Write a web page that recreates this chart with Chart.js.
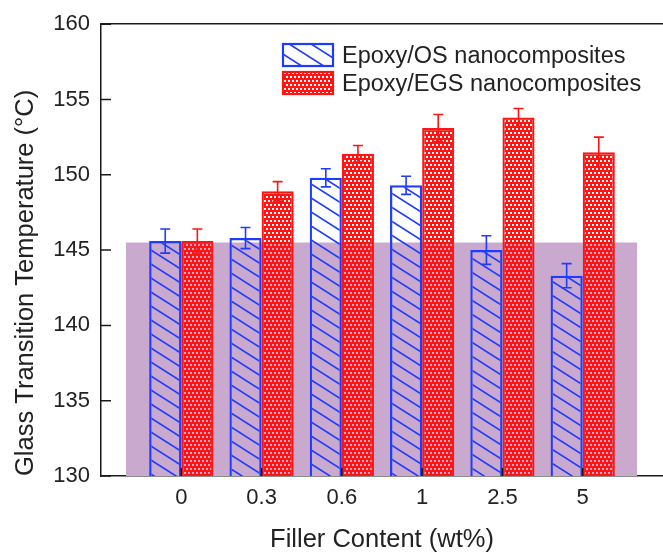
<!DOCTYPE html>
<html>
<head>
<meta charset="utf-8">
<script src="https://cdn.jsdelivr.net/npm/chart.js@4.4.1/dist/chart.umd.min.js"></script>
<style>
  html, body { margin: 0; padding: 0; background: #fff; overflow: hidden; }
</style>
</head>
<body>
<canvas id="tgChart" width="663" height="552"></canvas>
<script>
// Filler content (wt%) categories
const fillerLabels = ['0', '0.3', '0.6', '1', '2.5', '5'];

// Glass transition temperature (degC) and error, Epoxy/OS
const osValues = [145.6, 145.8, 149.8, 149.3, 145.0, 143.3];
const osErrors = [0.8, 0.7, 0.6, 0.6, 0.95, 0.8];

// Glass transition temperature (degC) and error, Epoxy/EGS
const egsValues = [145.6, 148.9, 151.4, 153.1, 153.8, 151.5];
const egsErrors = [0.8, 0.65, 0.55, 0.9, 0.6, 1.0];

// Neat epoxy reference band
const bandValue = 145.5;
const bandRange = [-0.69, 5.68];

const yTickStep = 5;

const BLUE = '#1e3cff';
const RED = '#ff1414';
const PURPLE = 'rgb(201,169,206)';
const AXIS = '#1a1a1a';

Chart.defaults.font.family = '"Liberation Sans", Arial, sans-serif';
Chart.defaults.color = '#222';

// Diagonal hatch ("\\\") pattern
function makeHatch(color) {
    const W = 22, H = 14;
    const c = document.createElement('canvas');
    c.width = W;
    c.height = H;
    const g = c.getContext('2d');
    g.strokeStyle = color;
    g.lineWidth = 1.6;
    g.beginPath();
    for (let k = -1; k <= 1; k++) {
        g.moveTo(-W, -H + k * H);
        g.lineTo(2 * W, 2 * H + k * H);
    }
    g.stroke();
    return g.createPattern(c, 'repeat');
}

// Solid colour with small see-through dots
function makeDots(color) {
    const c = document.createElement('canvas');
    c.width = 8;
    c.height = 8;
    const g = c.getContext('2d');
    g.fillStyle = color;
    g.fillRect(0, 0, 8, 8);
    [[0, 0], [4, 0], [2, 4], [6, 4]].forEach(([x, y]) => g.clearRect(x, y, 2, 2));
    return g.createPattern(c, 'repeat');
}

// Error bars with caps at both ends
const errorBars = {
    id: 'errorBars',
    afterDatasetsDraw(chart) {
        const ctx = chart.ctx;
        const yScale = chart.scales.y;
        chart.data.datasets.forEach((ds, di) => {
            if (!ds.errors) return;
            const meta = chart.getDatasetMeta(di);
            ctx.save();
            ctx.strokeStyle = ds.borderColor;
            ctx.lineWidth = 1.6;
            ctx.beginPath();
            meta.data.forEach((bar, i) => {
                const v = ds.data[i].y;
                const e = ds.errors[i];
                const top = yScale.getPixelForValue(v + e);
                const bot = yScale.getPixelForValue(v - e);
                ctx.moveTo(bar.x, top);
                ctx.lineTo(bar.x, bot);
                ctx.moveTo(bar.x - 5, top);
                ctx.lineTo(bar.x + 5, top);
                ctx.moveTo(bar.x - 5, bot);
                ctx.lineTo(bar.x + 5, bot);
            });
            ctx.stroke();
            ctx.restore();
        });
    }
};

// Tick marks pointing into the plot
const inwardTicks = {
    id: 'inwardTicks',
    afterDraw(chart) {
        const { ctx, chartArea: a, scales: { x, y } } = chart;
        ctx.save();
        ctx.strokeStyle = AXIS;
        ctx.lineWidth = 1.5;
        ctx.beginPath();
        y.ticks.forEach(t => {
            const py = y.getPixelForValue(t.value);
            ctx.moveTo(a.left, py);
            ctx.lineTo(a.left + 10, py);
        });
        x.ticks.forEach(t => {
            const px = x.getPixelForValue(t.value);
            ctx.moveTo(px, a.bottom);
            ctx.lineTo(px, a.bottom - 8);
        });
        ctx.stroke();
        ctx.restore();
    }
};

// Legend inside the plot, top right
const boxLegend = {
    id: 'boxLegend',
    afterDraw(chart) {
        const ctx = chart.ctx;
        const items = chart.data.datasets.filter(ds => ds.errors);
        ctx.save();
        ctx.font = '23.5px "Liberation Sans", Arial, sans-serif';
        ctx.textBaseline = 'alphabetic';
        items.forEach((ds, i) => {
            const bx = 282, by = 43 + i * 28;
            ctx.fillStyle = ds.backgroundColor;
            ctx.fillRect(bx, by, 52, 24);
            ctx.strokeStyle = ds.borderColor;
            ctx.lineWidth = 2.2;
            ctx.strokeRect(bx + 1, by + 1, 50, 22);
            ctx.fillStyle = '#222';
            ctx.fillText(ds.label, 342, by + 20);
        });
        ctx.restore();
    }
};

const ctx = document.getElementById('tgChart').getContext('2d');

new Chart(ctx, {
    type: 'bar',
    data: {
        datasets: [
            {
                label: 'Epoxy/OS nanocomposites',
                data: osValues.map((v, i) => ({ x: i, y: v })),
                errors: osErrors,
                backgroundColor: makeHatch(BLUE),
                borderColor: BLUE,
                borderWidth: 2.2,
                borderSkipped: false,
                categoryPercentage: 0.8,
                barPercentage: 1.0,
                order: 1
            },
            {
                label: 'Epoxy/EGS nanocomposites',
                data: egsValues.map((v, i) => ({ x: i, y: v })),
                errors: egsErrors,
                backgroundColor: makeDots(RED),
                borderColor: RED,
                borderWidth: 2.2,
                borderSkipped: false,
                categoryPercentage: 0.8,
                barPercentage: 1.0,
                order: 1
            },
            {
                type: 'line',
                label: 'neat epoxy',
                data: bandRange.map(x => ({ x: x, y: bandValue })),
                backgroundColor: PURPLE,
                borderWidth: 0,
                pointRadius: 0,
                fill: 'start',
                order: 5
            }
        ]
    },
    options: {
        responsive: false,
        animation: false,
        devicePixelRatio: 1,
        layout: { padding: { top: 24, left: 0, right: 0, bottom: 0 } },
        plugins: {
            legend: { display: false },
            tooltip: { enabled: false }
        },
        scales: {
            x: {
                type: 'linear',
                position: 'bottom',
                min: -1,
                max: 6,
                offset: false,
                grid: { display: false, drawTicks: false },
                border: { display: true, color: AXIS, width: 1.5 },
                afterBuildTicks: function (scale) {
                    scale.ticks = fillerLabels.map((_, i) => ({ value: i }));
                },
                afterFit: function (scale) {
                    scale.height = 76;
                },
                ticks: {
                    padding: 9,
                    font: { size: 22 },
                    color: '#222',
                    autoSkip: false,
                    maxRotation: 0,
                    callback: function (value) {
                        return fillerLabels[value];
                    }
                },
                title: {
                    display: true,
                    text: 'Filler Content (wt%)',
                    font: { size: 25.5 },
                    color: '#222',
                    padding: { top: 0, bottom: -3 }
                }
            },
            xTop: {
                type: 'linear',
                position: 'top',
                min: -1,
                max: 6,
                offset: false,
                grid: { display: false, drawTicks: false },
                ticks: { display: false },
                border: { display: true, color: AXIS, width: 1.5 },
                afterFit: function (scale) {
                    scale.height = 0;
                }
            },
            y: {
                min: 130,
                max: 160,
                grid: { display: false, drawTicks: false },
                border: { display: true, color: AXIS, width: 1.5 },
                afterFit: function (scale) {
                    scale.width = 101;
                },
                ticks: {
                    stepSize: yTickStep,
                    padding: 11,
                    font: { size: 22 },
                    color: '#222'
                },
                title: {
                    display: true,
                    text: 'Glass Transition Temperature (°C)',
                    align: 'start',
                    font: { size: 25.5 },
                    color: '#222',
                    padding: { top: 11, bottom: 0 }
                }
            }
        }
    },
    plugins: [errorBars, inwardTicks, boxLegend]
});
</script>
</body>
</html>
